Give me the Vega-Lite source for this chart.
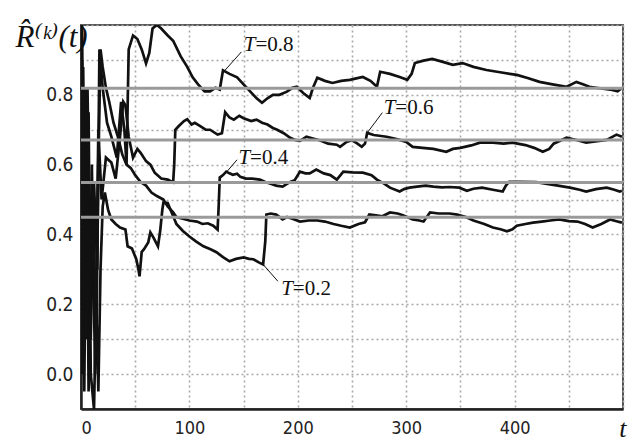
{
  "$schema": "https://vega.github.io/schema/vega-lite/v6.json",
  "width": 542,
  "height": 384,
  "autosize": {"type": "none"},
  "padding": {"left": 81, "top": 25, "right": 10, "bottom": 32},
  "background": "white",
  "config": {
    "view": {"stroke": "#555", "strokeWidth": 2},
    "axis": {
      "gridColor": "#a8a8a8",
      "gridDash": [2, 3],
      "gridWidth": 1.6,
      "domainColor": "#222",
      "domainWidth": 2.5
    }
  },
  "datasets": {
    "curves": [
      {"s":"0.8","t":1,"v":0.0},{"s":"0.8","t":2,"v":0.88},{"s":"0.8","t":4,"v":0.3},{"s":"0.8","t":6,"v":0.82},{"s":"0.8","t":9,"v":0.1},{"s":"0.8","t":12,"v":0.55},{"s":"0.8","t":15,"v":0.3},{"s":"0.8","t":17,"v":0.93},{"s":"0.8","t":20,"v":0.82},{"s":"0.8","t":24,"v":0.72},{"s":"0.8","t":28,"v":0.68},{"s":"0.8","t":33,"v":0.62},{"s":"0.8","t":37,"v":0.78},{"s":"0.8","t":40,"v":0.7},{"s":"0.8","t":42,"v":0.6},{"s":"0.8","t":44,"v":0.93},{"s":"0.8","t":48,"v":0.97},{"s":"0.8","t":52,"v":0.96},{"s":"0.8","t":56,"v":0.93},{"s":"0.8","t":60,"v":0.89},{"s":"0.8","t":63,"v":0.92},{"s":"0.8","t":66,"v":0.99},{"s":"0.8","t":70,"v":1.0},{"s":"0.8","t":74,"v":0.99},{"s":"0.8","t":80,"v":0.97},{"s":"0.8","t":85,"v":0.955},{"s":"0.8","t":92,"v":0.91},{"s":"0.8","t":98,"v":0.88},{"s":"0.8","t":103,"v":0.85},{"s":"0.8","t":108,"v":0.83},{"s":"0.8","t":114,"v":0.81},{"s":"0.8","t":119,"v":0.81},{"s":"0.8","t":124,"v":0.82},{"s":"0.8","t":128,"v":0.815},{"s":"0.8","t":131,"v":0.87},{"s":"0.8","t":137,"v":0.86},{"s":"0.8","t":144,"v":0.85},{"s":"0.8","t":150,"v":0.83},{"s":"0.8","t":156,"v":0.81},{"s":"0.8","t":162,"v":0.79},{"s":"0.8","t":167,"v":0.777},{"s":"0.8","t":172,"v":0.79},{"s":"0.8","t":177,"v":0.8},{"s":"0.8","t":183,"v":0.8},{"s":"0.8","t":190,"v":0.809},{"s":"0.8","t":195,"v":0.82},{"s":"0.8","t":199,"v":0.823},{"s":"0.8","t":205,"v":0.805},{"s":"0.8","t":211,"v":0.791},{"s":"0.8","t":214,"v":0.82},{"s":"0.8","t":218,"v":0.849},{"s":"0.8","t":225,"v":0.84},{"s":"0.8","t":232,"v":0.834},{"s":"0.8","t":240,"v":0.84},{"s":"0.8","t":248,"v":0.843},{"s":"0.8","t":255,"v":0.848},{"s":"0.8","t":260,"v":0.851},{"s":"0.8","t":267,"v":0.84},{"s":"0.8","t":273,"v":0.823},{"s":"0.8","t":276,"v":0.866},{"s":"0.8","t":285,"v":0.86},{"s":"0.8","t":294,"v":0.851},{"s":"0.8","t":301,"v":0.843},{"s":"0.8","t":305,"v":0.86},{"s":"0.8","t":308,"v":0.891},{"s":"0.8","t":316,"v":0.898},{"s":"0.8","t":324,"v":0.903},{"s":"0.8","t":333,"v":0.895},{"s":"0.8","t":343,"v":0.886},{"s":"0.8","t":352,"v":0.891},{"s":"0.8","t":362,"v":0.88},{"s":"0.8","t":374,"v":0.871},{"s":"0.8","t":388,"v":0.864},{"s":"0.8","t":402,"v":0.857},{"s":"0.8","t":412,"v":0.848},{"s":"0.8","t":423,"v":0.837},{"s":"0.8","t":435,"v":0.83},{"s":"0.8","t":448,"v":0.823},{"s":"0.8","t":457,"v":0.837},{"s":"0.8","t":463,"v":0.83},{"s":"0.8","t":469,"v":0.823},{"s":"0.8","t":480,"v":0.818},{"s":"0.8","t":490,"v":0.814},{"s":"0.8","t":495,"v":0.81},{"s":"0.8","t":499,"v":0.82},

      {"s":"0.6","t":1,"v":1.0},{"s":"0.6","t":3,"v":0.1},{"s":"0.6","t":5,"v":0.82},{"s":"0.6","t":7,"v":-0.05},{"s":"0.6","t":10,"v":0.6},{"s":"0.6","t":13,"v":0.0},{"s":"0.6","t":16,"v":0.7},{"s":"0.6","t":19,"v":0.5},{"s":"0.6","t":23,"v":0.62},{"s":"0.6","t":28,"v":0.606},{"s":"0.6","t":32,"v":0.56},{"s":"0.6","t":36,"v":0.68},{"s":"0.6","t":39,"v":0.78},{"s":"0.6","t":41,"v":0.77},{"s":"0.6","t":44,"v":0.68},{"s":"0.6","t":48,"v":0.62},{"s":"0.6","t":52,"v":0.645},{"s":"0.6","t":55,"v":0.634},{"s":"0.6","t":60,"v":0.61},{"s":"0.6","t":64,"v":0.6},{"s":"0.6","t":68,"v":0.577},{"s":"0.6","t":74,"v":0.56},{"s":"0.6","t":80,"v":0.557},{"s":"0.6","t":85,"v":0.549},{"s":"0.6","t":86,"v":0.6},{"s":"0.6","t":87,"v":0.7},{"s":"0.6","t":90,"v":0.71},{"s":"0.6","t":95,"v":0.725},{"s":"0.6","t":98,"v":0.73},{"s":"0.6","t":102,"v":0.715},{"s":"0.6","t":105,"v":0.72},{"s":"0.6","t":110,"v":0.71},{"s":"0.6","t":115,"v":0.7},{"s":"0.6","t":119,"v":0.7},{"s":"0.6","t":126,"v":0.686},{"s":"0.6","t":130,"v":0.69},{"s":"0.6","t":133,"v":0.75},{"s":"0.6","t":137,"v":0.735},{"s":"0.6","t":141,"v":0.729},{"s":"0.6","t":146,"v":0.74},{"s":"0.6","t":150,"v":0.733},{"s":"0.6","t":157,"v":0.725},{"s":"0.6","t":162,"v":0.729},{"s":"0.6","t":167,"v":0.72},{"s":"0.6","t":172,"v":0.715},{"s":"0.6","t":177,"v":0.705},{"s":"0.6","t":181,"v":0.7},{"s":"0.6","t":187,"v":0.69},{"s":"0.6","t":193,"v":0.677},{"s":"0.6","t":198,"v":0.67},{"s":"0.6","t":202,"v":0.668},{"s":"0.6","t":208,"v":0.68},{"s":"0.6","t":214,"v":0.675},{"s":"0.6","t":220,"v":0.67},{"s":"0.6","t":228,"v":0.66},{"s":"0.6","t":236,"v":0.657},{"s":"0.6","t":239,"v":0.651},{"s":"0.6","t":245,"v":0.665},{"s":"0.6","t":250,"v":0.67},{"s":"0.6","t":255,"v":0.66},{"s":"0.6","t":259,"v":0.651},{"s":"0.6","t":262,"v":0.66},{"s":"0.6","t":264,"v":0.691},{"s":"0.6","t":270,"v":0.685},{"s":"0.6","t":282,"v":0.68},{"s":"0.6","t":294,"v":0.671},{"s":"0.6","t":300,"v":0.665},{"s":"0.6","t":306,"v":0.651},{"s":"0.6","t":315,"v":0.648},{"s":"0.6","t":325,"v":0.645},{"s":"0.6","t":337,"v":0.637},{"s":"0.6","t":343,"v":0.645},{"s":"0.6","t":350,"v":0.648},{"s":"0.6","t":360,"v":0.655},{"s":"0.6","t":368,"v":0.663},{"s":"0.6","t":380,"v":0.663},{"s":"0.6","t":390,"v":0.66},{"s":"0.6","t":398,"v":0.663},{"s":"0.6","t":410,"v":0.656},{"s":"0.6","t":418,"v":0.648},{"s":"0.6","t":426,"v":0.637},{"s":"0.6","t":432,"v":0.645},{"s":"0.6","t":436,"v":0.66},{"s":"0.6","t":448,"v":0.677},{"s":"0.6","t":458,"v":0.67},{"s":"0.6","t":466,"v":0.663},{"s":"0.6","t":478,"v":0.668},{"s":"0.6","t":485,"v":0.671},{"s":"0.6","t":494,"v":0.686},{"s":"0.6","t":499,"v":0.68},

      {"s":"0.4","t":1,"v":0.5},{"s":"0.4","t":3,"v":-0.05},{"s":"0.4","t":5,"v":0.6},{"s":"0.4","t":8,"v":0.1},{"s":"0.4","t":11,"v":0.5},{"s":"0.4","t":14,"v":0.05},{"s":"0.4","t":16,"v":0.6},{"s":"0.4","t":18,"v":0.93},{"s":"0.4","t":20,"v":0.88},{"s":"0.4","t":23,"v":0.82},{"s":"0.4","t":26,"v":0.78},{"s":"0.4","t":30,"v":0.72},{"s":"0.4","t":34,"v":0.68},{"s":"0.4","t":38,"v":0.63},{"s":"0.4","t":42,"v":0.6},{"s":"0.4","t":46,"v":0.59},{"s":"0.4","t":50,"v":0.57},{"s":"0.4","t":55,"v":0.55},{"s":"0.4","t":60,"v":0.54},{"s":"0.4","t":65,"v":0.52},{"s":"0.4","t":70,"v":0.51},{"s":"0.4","t":76,"v":0.5},{"s":"0.4","t":80,"v":0.48},{"s":"0.4","t":85,"v":0.463},{"s":"0.4","t":88,"v":0.45},{"s":"0.4","t":94,"v":0.445},{"s":"0.4","t":100,"v":0.44},{"s":"0.4","t":107,"v":0.437},{"s":"0.4","t":112,"v":0.43},{"s":"0.4","t":117,"v":0.432},{"s":"0.4","t":122,"v":0.425},{"s":"0.4","t":126,"v":0.414},{"s":"0.4","t":127,"v":0.48},{"s":"0.4","t":128,"v":0.563},{"s":"0.4","t":131,"v":0.57},{"s":"0.4","t":134,"v":0.58},{"s":"0.4","t":137,"v":0.575},{"s":"0.4","t":140,"v":0.571},{"s":"0.4","t":144,"v":0.574},{"s":"0.4","t":147,"v":0.565},{"s":"0.4","t":152,"v":0.56},{"s":"0.4","t":158,"v":0.56},{"s":"0.4","t":165,"v":0.557},{"s":"0.4","t":170,"v":0.55},{"s":"0.4","t":175,"v":0.545},{"s":"0.4","t":180,"v":0.54},{"s":"0.4","t":186,"v":0.537},{"s":"0.4","t":190,"v":0.545},{"s":"0.4","t":193,"v":0.55},{"s":"0.4","t":197,"v":0.555},{"s":"0.4","t":202,"v":0.58},{"s":"0.4","t":207,"v":0.575},{"s":"0.4","t":211,"v":0.575},{"s":"0.4","t":217,"v":0.586},{"s":"0.4","t":224,"v":0.575},{"s":"0.4","t":230,"v":0.57},{"s":"0.4","t":236,"v":0.557},{"s":"0.4","t":242,"v":0.58},{"s":"0.4","t":250,"v":0.578},{"s":"0.4","t":260,"v":0.577},{"s":"0.4","t":268,"v":0.57},{"s":"0.4","t":273,"v":0.557},{"s":"0.4","t":280,"v":0.545},{"s":"0.4","t":285,"v":0.534},{"s":"0.4","t":294,"v":0.523},{"s":"0.4","t":298,"v":0.53},{"s":"0.4","t":303,"v":0.534},{"s":"0.4","t":310,"v":0.537},{"s":"0.4","t":318,"v":0.54},{"s":"0.4","t":325,"v":0.537},{"s":"0.4","t":333,"v":0.535},{"s":"0.4","t":340,"v":0.536},{"s":"0.4","t":349,"v":0.534},{"s":"0.4","t":356,"v":0.525},{"s":"0.4","t":362,"v":0.531},{"s":"0.4","t":370,"v":0.534},{"s":"0.4","t":380,"v":0.528},{"s":"0.4","t":389,"v":0.523},{"s":"0.4","t":392,"v":0.54},{"s":"0.4","t":395,"v":0.551},{"s":"0.4","t":405,"v":0.551},{"s":"0.4","t":420,"v":0.55},{"s":"0.4","t":430,"v":0.545},{"s":"0.4","t":440,"v":0.54},{"s":"0.4","t":451,"v":0.534},{"s":"0.4","t":460,"v":0.528},{"s":"0.4","t":466,"v":0.523},{"s":"0.4","t":475,"v":0.53},{"s":"0.4","t":485,"v":0.534},{"s":"0.4","t":492,"v":0.528},{"s":"0.4","t":497,"v":0.523},{"s":"0.4","t":499,"v":0.525},

      {"s":"0.2","t":1,"v":0.9},{"s":"0.2","t":2,"v":0.2},{"s":"0.2","t":3,"v":0.82},{"s":"0.2","t":5,"v":0.1},{"s":"0.2","t":7,"v":0.75},{"s":"0.2","t":9,"v":0.0},{"s":"0.2","t":12,"v":-0.1},{"s":"0.2","t":14,"v":0.2},{"s":"0.2","t":16,"v":-0.05},{"s":"0.2","t":18,"v":0.3},{"s":"0.2","t":20,"v":0.48},{"s":"0.2","t":22,"v":0.52},{"s":"0.2","t":25,"v":0.47},{"s":"0.2","t":28,"v":0.443},{"s":"0.2","t":32,"v":0.43},{"s":"0.2","t":36,"v":0.42},{"s":"0.2","t":41,"v":0.414},{"s":"0.2","t":43,"v":0.366},{"s":"0.2","t":47,"v":0.36},{"s":"0.2","t":51,"v":0.329},{"s":"0.2","t":53,"v":0.3},{"s":"0.2","t":54,"v":0.28},{"s":"0.2","t":56,"v":0.35},{"s":"0.2","t":58,"v":0.357},{"s":"0.2","t":62,"v":0.377},{"s":"0.2","t":64,"v":0.406},{"s":"0.2","t":67,"v":0.39},{"s":"0.2","t":71,"v":0.366},{"s":"0.2","t":73,"v":0.409},{"s":"0.2","t":75,"v":0.47},{"s":"0.2","t":76,"v":0.491},{"s":"0.2","t":80,"v":0.49},{"s":"0.2","t":84,"v":0.46},{"s":"0.2","t":88,"v":0.43},{"s":"0.2","t":94,"v":0.41},{"s":"0.2","t":100,"v":0.394},{"s":"0.2","t":106,"v":0.38},{"s":"0.2","t":113,"v":0.366},{"s":"0.2","t":120,"v":0.357},{"s":"0.2","t":125,"v":0.349},{"s":"0.2","t":131,"v":0.335},{"s":"0.2","t":137,"v":0.323},{"s":"0.2","t":143,"v":0.33},{"s":"0.2","t":150,"v":0.334},{"s":"0.2","t":155,"v":0.33},{"s":"0.2","t":159,"v":0.329},{"s":"0.2","t":164,"v":0.32},{"s":"0.2","t":168,"v":0.314},{"s":"0.2","t":170,"v":0.38},{"s":"0.2","t":171,"v":0.457},{"s":"0.2","t":175,"v":0.46},{"s":"0.2","t":180,"v":0.457},{"s":"0.2","t":186,"v":0.443},{"s":"0.2","t":190,"v":0.45},{"s":"0.2","t":195,"v":0.445},{"s":"0.2","t":202,"v":0.437},{"s":"0.2","t":210,"v":0.44},{"s":"0.2","t":218,"v":0.44},{"s":"0.2","t":225,"v":0.437},{"s":"0.2","t":233,"v":0.43},{"s":"0.2","t":240,"v":0.425},{"s":"0.2","t":248,"v":0.42},{"s":"0.2","t":256,"v":0.43},{"s":"0.2","t":262,"v":0.435},{"s":"0.2","t":266,"v":0.457},{"s":"0.2","t":272,"v":0.455},{"s":"0.2","t":278,"v":0.452},{"s":"0.2","t":285,"v":0.463},{"s":"0.2","t":292,"v":0.46},{"s":"0.2","t":297,"v":0.455},{"s":"0.2","t":306,"v":0.443},{"s":"0.2","t":312,"v":0.44},{"s":"0.2","t":316,"v":0.437},{"s":"0.2","t":322,"v":0.463},{"s":"0.2","t":330,"v":0.46},{"s":"0.2","t":340,"v":0.46},{"s":"0.2","t":347,"v":0.457},{"s":"0.2","t":355,"v":0.45},{"s":"0.2","t":362,"v":0.44},{"s":"0.2","t":372,"v":0.43},{"s":"0.2","t":380,"v":0.42},{"s":"0.2","t":387,"v":0.415},{"s":"0.2","t":393,"v":0.409},{"s":"0.2","t":398,"v":0.415},{"s":"0.2","t":402,"v":0.425},{"s":"0.2","t":410,"v":0.43},{"s":"0.2","t":417,"v":0.434},{"s":"0.2","t":425,"v":0.437},{"s":"0.2","t":433,"v":0.44},{"s":"0.2","t":441,"v":0.443},{"s":"0.2","t":450,"v":0.438},{"s":"0.2","t":458,"v":0.437},{"s":"0.2","t":465,"v":0.43},{"s":"0.2","t":472,"v":0.42},{"s":"0.2","t":480,"v":0.43},{"s":"0.2","t":488,"v":0.443},{"s":"0.2","t":494,"v":0.438},{"s":"0.2","t":499,"v":0.434}
    ],
    "refs": [{"r": 0.8187}, {"r": 0.6703}, {"r": 0.5488}, {"r": 0.4493}],
    "notes": [
      {"lab": "=0.8", "t1": 133, "v1": 0.871, "t2": 148, "v2": 0.923, "tx": 161, "vy": 0.943},
      {"lab": "=0.6", "t1": 264, "v1": 0.691, "t2": 278, "v2": 0.749, "tx": 290, "vy": 0.763},
      {"lab": "=0.4", "t1": 134.6, "v1": 0.58, "t2": 144, "v2": 0.614, "tx": 156, "vy": 0.62},
      {"lab": "=0.2", "t1": 168, "v1": 0.314, "t2": 181.6, "v2": 0.266, "tx": 195.4, "vy": 0.243}
    ]
  },
  "layer": [
    {
      "data": {"name": "curves"},
      "mark": {"type": "line", "color": "#111", "strokeWidth": 2.7, "clip": true},
      "encoding": {
        "x": {
          "field": "t", "type": "quantitative",
          "scale": {"domain": [0, 500], "nice": false},
          "axis": {
            "values": [0, 50, 100, 150, 200, 250, 300, 350, 400, 450, 500],
            "labelExpr": "(datum.value % 100 == 0 && datum.value < 500) ? format(datum.value, 'd') : ''",
            "labelFont": "DejaVu Sans Condensed, Liberation Sans Narrow, sans-serif",
            "labelFontSize": 18,
            "labelColor": "#222",
            "labelPadding": 10,
            "ticks": false,
            "title": "t",
            "titleFont": "Liberation Serif",
            "titleFontStyle": "italic",
            "titleFontWeight": "normal",
            "titleFontSize": 26,
            "titleColor": "#111",
            "titleAlign": "right",
            "titleBaseline": "alphabetic",
            "titleX": 545,
            "titleY": 27
          }
        },
        "y": {
          "field": "v", "type": "quantitative",
          "scale": {"domain": [-0.1, 1.0], "nice": false, "zero": false},
          "axis": {
            "tickCount": 11,
            "labelExpr": "(datum.value > -0.05 && datum.value < 0.85 && round(datum.value * 10) % 2 == 0) ? format(datum.value, '.1f') : ''",
            "labelFont": "DejaVu Sans Condensed, Liberation Sans Narrow, sans-serif",
            "labelFontSize": 19,
            "labelColor": "#222",
            "labelPadding": 8,
            "ticks": false,
            "title": "R̂⁽ᵏ⁾(t)",
            "titleFont": "Liberation Serif, DejaVu Serif, serif",
            "titleFontStyle": "italic",
            "titleFontWeight": "normal",
            "titleFontSize": 31,
            "titleColor": "#111",
            "titleAngle": 0,
            "titleAlign": "left",
            "titleBaseline": "alphabetic",
            "titleX": -66,
            "titleY": 21
          }
        },
        "detail": {"field": "s"}
      }
    },
    {
      "data": {"name": "refs"},
      "mark": {"type": "rule", "color": "#9a9a9a", "strokeWidth": 3},
      "encoding": {
        "y": {"field": "r", "type": "quantitative"}
      }
    },
    {
      "data": {"name": "notes"},
      "mark": {"type": "rule", "color": "#111", "strokeWidth": 1},
      "encoding": {
        "x": {"field": "t1", "type": "quantitative"},
        "y": {"field": "v1", "type": "quantitative"},
        "x2": {"field": "t2"},
        "y2": {"field": "v2"}
      }
    },
    {
      "data": {"name": "notes"},
      "mark": {"type": "text", "text": "T", "align": "right", "baseline": "middle", "font": "Liberation Serif", "fontStyle": "italic", "fontSize": 21, "color": "#111"},
      "encoding": {
        "x": {"field": "tx", "type": "quantitative"},
        "y": {"field": "vy", "type": "quantitative"}
      }
    },
    {
      "data": {"name": "notes"},
      "mark": {"type": "text", "align": "left", "baseline": "middle", "font": "Liberation Serif", "fontSize": 21, "color": "#111"},
      "encoding": {
        "x": {"field": "tx", "type": "quantitative"},
        "y": {"field": "vy", "type": "quantitative"},
        "text": {"field": "lab"}
      }
    }
  ]
}
